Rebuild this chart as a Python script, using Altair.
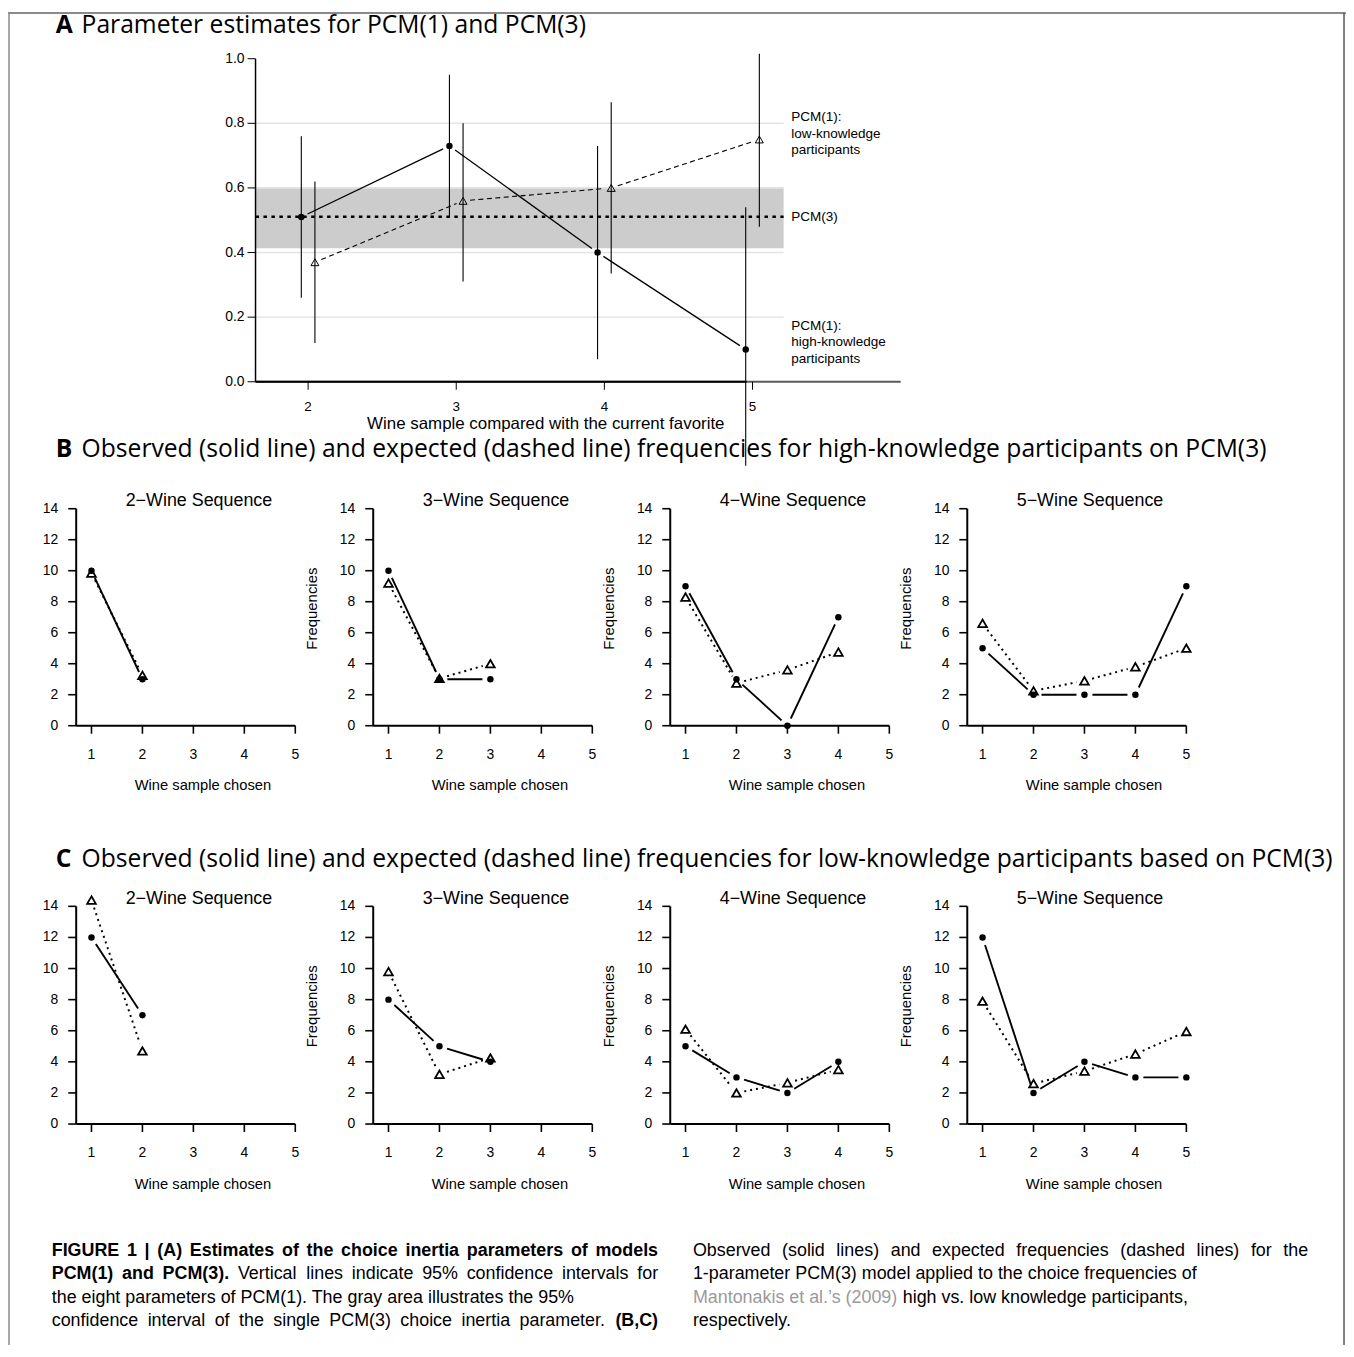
import math
import altair as alt
import pandas as pd

# ---------------- values ----------------
# Panel A: choice inertia parameter estimates with 95% CIs
a_sample = [2, 3, 4, 5]
a_high_est = [0.51, 0.73, 0.40, 0.10]
a_high_lo = [0.26, 0.51, 0.07, -0.26]
a_high_hi = [0.76, 0.95, 0.73, 0.54]
a_low_est = [0.37, 0.56, 0.60, 0.75]
a_low_lo = [0.12, 0.31, 0.335, 0.48]
a_low_hi = [0.62, 0.80, 0.865, 1.015]
pcm3_est = 0.511
pcm3_ci = [0.413, 0.602]
a_grid = [0.2, 0.4, 0.6, 0.8]
a_xticks = [2, 3, 4, 5]
a_xtick_labels = ["2", "3", "4", "5"]
a_yticks = [0.0, 0.2, 0.4, 0.6, 0.8, 1.0]
a_ytick_labels = ["0.0", "0.2", "0.4", "0.6", "0.8", "1.0"]

# Panels B and C: observed (circles) and expected (triangles) frequencies
seq_titles = ["2\u2212Wine Sequence", "3\u2212Wine Sequence",
              "4\u2212Wine Sequence", "5\u2212Wine Sequence"]
choice_ticks = [1, 2, 3, 4, 5]
choice_labels = ["1", "2", "3", "4", "5"]
freq_ticks = [0, 2, 4, 6, 8, 10, 12, 14]
freq_labels = ["0", "2", "4", "6", "8", "10", "12", "14"]
high_obs = [[10, 3], [10, 3, 3], [9, 3, 0, 7], [5, 2, 2, 2, 9]]
high_exp = [[9.85, 3.25], [9.2, 3.05, 4.0], [8.3, 2.75, 3.6, 4.75], [6.6, 2.25, 2.9, 3.8, 5.0]]
low_obs = [[12, 7], [8, 5, 4], [5, 3, 2, 4], [12, 2, 4, 3, 3]]
low_exp = [[14.4, 4.7], [9.8, 3.2, 4.25], [6.1, 2.0, 2.65, 3.5], [7.9, 2.6, 3.4, 4.5, 5.95]]

# ---------------- layout helpers ----------------
OX = OY = 8
W, H = 1346, 1341


def px(v):
    return v - OX


def py(v):
    return v - OY


FONT = "Liberation Sans, Arial, Helvetica, sans-serif"
TFONT = "Open Sans, DejaVu Sans, sans-serif"
one = pd.DataFrame({"k": [0]})
TICK = 8


def label(text, x, y, size, align="left", weight="normal", color="black",
          font=FONT, angle=None):
    kw = dict(text=text, align=align, baseline="middle", fontSize=size,
              fontWeight=weight, color=color, font=font)
    if angle is not None:
        kw["angle"] = angle
    return alt.Chart(one).mark_text(**kw).encode(x=alt.value(px(x)), y=alt.value(py(y)))


# Arial / Liberation Sans advance widths (1/1000 em) used to justify caption lines
_REG = {" ": 278, "%": 889, "(": 333, ")": 333, ",": 278, "-": 333, ".": 278, "|": 260,
        "\u2019": 222, "A": 667, "B": 667, "C": 722, "D": 722, "E": 667, "F": 611, "G": 778,
        "H": 722, "I": 278, "M": 833, "O": 778, "P": 667, "R": 722, "T": 611, "U": 722,
        "V": 667, "W": 944, "a": 556, "b": 556, "c": 500, "d": 556, "e": 556, "f": 278,
        "g": 556, "h": 556, "i": 222, "j": 222, "k": 500, "l": 222, "m": 833, "n": 556,
        "o": 556, "p": 556, "q": 556, "r": 333, "s": 500, "t": 278, "u": 556, "v": 500,
        "w": 722, "x": 500, "y": 500, "z": 500}
_BOLD = {" ": 278, "(": 333, ")": 333, ",": 278, ".": 278, "|": 280, "A": 722, "B": 722,
         "C": 722, "E": 667, "F": 611, "G": 778, "I": 278, "M": 833, "P": 667, "R": 722,
         "U": 722, "a": 556, "c": 556, "d": 611, "e": 556, "f": 333, "h": 611, "i": 278,
         "l": 278, "m": 889, "n": 611, "o": 611, "p": 611, "r": 389, "s": 556, "t": 333}


def text_width(s, bold, size):
    table = _BOLD if bold else _REG
    return sum(table.get(c, 556) for c in s) * size / 1000.0


def justified(parts, x0, x1, y, size):
    """parts: list of (text, bold); words spread evenly between x0 and x1."""
    words = []
    for text, bold in parts:
        words += [(w, bold) for w in text.split(" ") if w]
    widths = [text_width(w, b, size) for w, b in words]
    gap = (x1 - x0 - sum(widths)) / (len(words) - 1)
    out, x = [], x0
    for (w, b), wd in zip(words, widths):
        out.append(label(w, x, y, size, weight="bold" if b else "normal"))
        x += wd + gap
    return out


def gap_segments(xs, ys, kx, ky, gap):
    rows = []
    for i in range(len(xs) - 1):
        ddx, ddy = xs[i + 1] - xs[i], ys[i + 1] - ys[i]
        length = math.hypot(ddx * kx, ddy * ky)
        if length <= 2 * gap:
            continue
        f = gap / length
        rows.append({"x": xs[i] + f * ddx, "y": ys[i] + f * ddy,
                     "x2": xs[i + 1] - f * ddx, "y2": ys[i + 1] - f * ddy})
    return pd.DataFrame(rows, columns=["x", "y", "x2", "y2"])


def y_axis(xs, ys, x_at, ylo, yhi, ticks, labels, dom_w, tick_w, size, lab_dx):
    dom = pd.DataFrame({"x": [x_at], "y": [ylo], "y2": [yhi]})
    tk = pd.DataFrame({"x": x_at, "v": ticks, "lab": labels})
    X = alt.X("x:Q", scale=xs, axis=None)
    V = alt.Y("v:Q", scale=ys, axis=None)
    return [
        alt.Chart(dom).mark_rule(color="black", strokeWidth=dom_w).encode(
            x=X, y=alt.Y("y:Q", scale=ys, axis=None), y2=alt.Y2("y2")),
        alt.Chart(tk).mark_rule(color="black", strokeWidth=tick_w, x2Offset=-TICK).encode(
            x=X, x2=alt.X2("x"), y=V),
        alt.Chart(tk).mark_text(align="right", baseline="middle", dx=lab_dx, fontSize=size,
                                font=FONT, color="black").encode(x=X, y=V, text="lab:N"),
    ]


def x_axis(xs, ys, y_at, xlo, xhi, ticks, labels, dom_color, dom_w, tick_w, size, lab_dy):
    dom = pd.DataFrame({"y": [y_at], "x": [xlo], "x2": [xhi]})
    tk = pd.DataFrame({"y": y_at, "v": ticks, "lab": labels})
    Y = alt.Y("y:Q", scale=ys, axis=None)
    V = alt.X("v:Q", scale=xs, axis=None)
    return [
        alt.Chart(dom).mark_rule(color=dom_color, strokeWidth=dom_w).encode(
            x=alt.X("x:Q", scale=xs, axis=None), x2=alt.X2("x2"), y=Y),
        alt.Chart(tk).mark_rule(color="black", strokeWidth=tick_w, y2Offset=TICK).encode(
            x=V, y=Y, y2=alt.Y2("y")),
        alt.Chart(tk).mark_text(align="center", baseline="middle", dy=lab_dy, fontSize=size,
                                font=FONT, color="black").encode(x=V, y=Y, text="lab:N"),
    ]


# ---------------- Panel A ----------------
A_L, A_R, A_T, A_B = 257, 906, 55, 380
A_XDOM = [1.645, 6.0]
A_REF_END = 5.21
A_DODGE = 0.046
axs = alt.Scale(domain=A_XDOM, range=[px(A_L), px(A_R)], nice=False, zero=False)
ays = alt.Scale(domain=[0, 1], range=[py(A_B), py(A_T)], nice=False, zero=False)


def AX(f):
    return alt.X(f, type="quantitative", scale=axs, axis=None)


def AY(f):
    return alt.Y(f, type="quantitative", scale=ays, axis=None)


band_df = pd.DataFrame({"x": [A_XDOM[0]], "x2": [A_REF_END], "lo": [pcm3_ci[0]], "hi": [pcm3_ci[1]]})
grid_df = pd.DataFrame({"y": a_grid, "x": A_XDOM[0], "x2": A_REF_END})
pcm3_df = pd.DataFrame({"y": [pcm3_est], "x": [A_XDOM[0]], "x2": [A_REF_END]})
zero_df = pd.DataFrame({"y": [0.0], "x": [A_XDOM[0]], "x2": [4.96]})
high_x = [s - A_DODGE for s in a_sample]
low_x = [s + A_DODGE for s in a_sample]
high_df = pd.DataFrame({"x": high_x, "est": a_high_est, "lo": a_high_lo, "hi": a_high_hi})
low_df = pd.DataFrame({"x": low_x, "est": a_low_est, "lo": a_low_lo, "hi": a_low_hi})
akx = (A_R - A_L) / (A_XDOM[1] - A_XDOM[0])
aky = (A_B - A_T)
high_seg = gap_segments(high_x, a_high_est, akx, aky, 7)
low_seg = gap_segments(low_x, a_low_est, akx, aky, 7)

panel_a = [
    alt.Chart(band_df).mark_rect(color="#cccccc").encode(
        x=AX("x"), x2=alt.X2("x2"), y=AY("lo"), y2=alt.Y2("hi")),
    alt.Chart(grid_df).mark_rule(color="#e4e4e4", strokeWidth=1.5).encode(
        x=AX("x"), x2=alt.X2("x2"), y=AY("y")),
    *x_axis(axs, ays, 0.0, A_XDOM[0], A_XDOM[1], a_xticks, a_xtick_labels,
            "#5a5a5a", 2, 1, 13.5, 25.5),
    alt.Chart(zero_df).mark_rule(color="black", strokeWidth=2).encode(
        x=AX("x"), x2=alt.X2("x2"), y=AY("y")),
    *y_axis(axs, ays, A_XDOM[0], 0, 1, a_yticks, a_ytick_labels, 1.5, 1, 14, -11),
    alt.Chart(pcm3_df).mark_rule(color="black", strokeWidth=2.6, strokeDash=[3.5, 4.5]).encode(
        x=AX("x"), x2=alt.X2("x2"), y=AY("y")),
    alt.Chart(high_df).mark_rule(color="black", strokeWidth=1.1).encode(
        x=AX("x"), y=AY("lo"), y2=alt.Y2("hi")),
    alt.Chart(low_df).mark_rule(color="black", strokeWidth=1.1).encode(
        x=AX("x"), y=AY("lo"), y2=alt.Y2("hi")),
    alt.Chart(high_seg).mark_rule(color="black", strokeWidth=1.3).encode(
        x=AX("x"), y=AY("y"), x2=alt.X2("x2"), y2=alt.Y2("y2")),
    alt.Chart(low_seg).mark_rule(color="black", strokeWidth=1.1, strokeDash=[5, 3.5]).encode(
        x=AX("x"), y=AY("y"), x2=alt.X2("x2"), y2=alt.Y2("y2")),
    alt.Chart(high_df).mark_point(shape="circle", filled=True, size=42, color="black", opacity=1).encode(
        x=AX("x"), y=AY("est")),
    alt.Chart(low_df).mark_point(shape="triangle-up", filled=False, size=64, strokeWidth=1,
                                 color="black", opacity=1).encode(x=AX("x"), y=AY("est")),
]

TS = 24.8
a_texts = [
    label("A", 56, 22, TS, weight="bold", font=TFONT),
    label("Parameter estimates for PCM(1) and PCM(3)", 82, 22, TS, font=TFONT),
    label("PCM(1):", 796, 114, 13.6),
    label("low-knowledge", 796, 130.5, 13.6),
    label("participants", 796, 147, 13.6),
    label("PCM(3)", 796, 214.5, 13.6),
    label("PCM(1):", 796, 323.5, 13.6),
    label("high-knowledge", 796, 340.5, 13.6),
    label("participants", 796, 357, 13.6),
    label("Wine sample compared with the current favorite", 549, 423, 17, align="center"),
]

# ---------------- Panels B and C ----------------
B_L0, B_STEP, B_W = 76.6, 298.8, 220.4
B_XDOM = [0.7, 5]


def seq_panel(k, obs, exp, top, bottom):
    left = B_L0 + k * B_STEP
    right = left + B_W
    xs = alt.Scale(domain=B_XDOM, range=[px(left), px(right)], nice=False, zero=False)
    ys = alt.Scale(domain=[0, 14], range=[py(bottom), py(top)], nice=False, zero=False)
    n = len(obs)
    ch = list(range(1, n + 1))
    kx = B_W / (B_XDOM[1] - B_XDOM[0])
    ky = (bottom - top) / 14
    obs_df = pd.DataFrame({"choice": ch, "freq": obs})
    exp_df = pd.DataFrame({"choice": ch, "freq": exp})
    obs_seg = gap_segments(ch, obs, kx, ky, 8)
    exp_seg = gap_segments(ch, exp, kx, ky, 8)

    def sx(f):
        return alt.X(f, type="quantitative", scale=xs, axis=None)

    def sy(f):
        return alt.Y(f, type="quantitative", scale=ys, axis=None)

    return [
        *x_axis(xs, ys, 0, B_XDOM[0], B_XDOM[1], choice_ticks, choice_labels,
                "black", 2, 1.6, 14, 29),
        *y_axis(xs, ys, B_XDOM[0], 0, 14, freq_ticks, freq_labels, 2, 1.6, 14, -18),
        alt.Chart(obs_seg).mark_rule(color="black", strokeWidth=1.9).encode(
            x=sx("x"), y=sy("y"), x2=alt.X2("x2"), y2=alt.Y2("y2")),
        alt.Chart(exp_seg).mark_rule(color="black", strokeWidth=2, strokeDash=[2, 4]).encode(
            x=sx("x"), y=sy("y"), x2=alt.X2("x2"), y2=alt.Y2("y2")),
        alt.Chart(obs_df).mark_point(shape="circle", filled=True, size=42, color="black",
                                     opacity=1).encode(x=sx("choice"), y=sy("freq")),
        alt.Chart(exp_df).mark_point(shape="triangle-up", filled=False, size=76, strokeWidth=1.8,
                                     color="black", opacity=1).encode(x=sx("choice"), y=sy("freq")),
    ]


def seq_texts(k, top, bottom):
    left = B_L0 + k * B_STEP
    out = [
        label(seq_titles[k], left + 123.5, top - 7.5, 18, align="center"),
        label("Wine sample chosen", left + 127.5, bottom + 61, 14.8, align="center"),
    ]
    if k > 0:
        out.append(label("Frequencies", left - 61.4, top + 100.5, 15, align="center", angle=270))
    return out


B_T, B_B = 507.7, 726.0
C_T, C_B = 907.7, 1126.7

panels = []
bc_texts = []
for k in range(4):
    panels += seq_panel(k, high_obs[k], high_exp[k], B_T, B_B)
    panels += seq_panel(k, low_obs[k], low_exp[k], C_T, C_B)
    bc_texts += seq_texts(k, B_T, B_B)
    bc_texts += seq_texts(k, C_T, C_B)

bc_titles = [
    label("B", 56, 449, TS, weight="bold", font=TFONT),
    label("Observed (solid line) and expected (dashed line) frequencies for high-knowledge "
          "participants on PCM(3)", 82, 449, TS, font=TFONT),
    label("C", 56, 861, TS, weight="bold", font=TFONT),
    label("Observed (solid line) and expected (dashed line) frequencies for low-knowledge "
          "participants based on PCM(3)", 82, 861, TS, font=TFONT),
]

# ---------------- caption ----------------
CL, CLR, CR, CRR = 52, 662, 697, 1316
CY = [1254, 1278, 1302, 1325]
CS = 18
link_text = "Mantonakis et al.\u2019s (2009)"
caption = [
    *justified([("FIGURE 1 | (A) Estimates of the choice inertia parameters of models", True)],
               CL, CLR, CY[0], CS),
    *justified([("PCM(1) and PCM(3).", True),
                ("Vertical lines indicate 95% confidence intervals for", False)],
               CL, CLR, CY[1], CS),
    label("the eight parameters of PCM(1). The gray area illustrates the 95%", CL, CY[2], CS),
    *justified([("confidence interval of the single PCM(3) choice inertia parameter.", False),
                ("(B,C)", True)], CL, CLR, CY[3], CS),
    *justified([("Observed (solid lines) and expected frequencies (dashed lines) for the", False)],
               CR, CRR, CY[0], CS),
    label("1-parameter PCM(3) model applied to the choice frequencies of", CR, CY[1], CS),
    label(link_text, CR, CY[2], CS, color="#9a9a9a"),
    label("high vs. low knowledge participants,",
          CR + text_width(link_text + " ", False, CS), CY[2], CS),
    label("respectively.", CR, CY[3], CS),
]

# ---------------- frame ----------------
frame = [
    alt.Chart(one).mark_rule(color="#8a8a8a", strokeWidth=2).encode(
        x=alt.value(0), x2=alt.value(W), y=alt.value(1)),
    alt.Chart(one).mark_rule(color="#8a8a8a", strokeWidth=1.5).encode(
        x=alt.value(1), y=alt.value(1), y2=alt.value(H)),
    alt.Chart(one).mark_rule(color="#555555", strokeWidth=1.5).encode(
        x=alt.value(px(1352)), y=alt.value(1), y2=alt.value(H)),
]

chart = alt.layer(
    *frame, *a_texts, *bc_titles, *bc_texts, *caption,
    *panels, *panel_a,
).resolve_scale(
    x="independent", y="independent"
).properties(
    width=W, height=H, padding=0, background="white",
    autosize=alt.AutoSizeParams(type="none"),
).configure_view(strokeWidth=0)

chart.save("out.html", embed_options={"renderer": "svg", "actions": False})
